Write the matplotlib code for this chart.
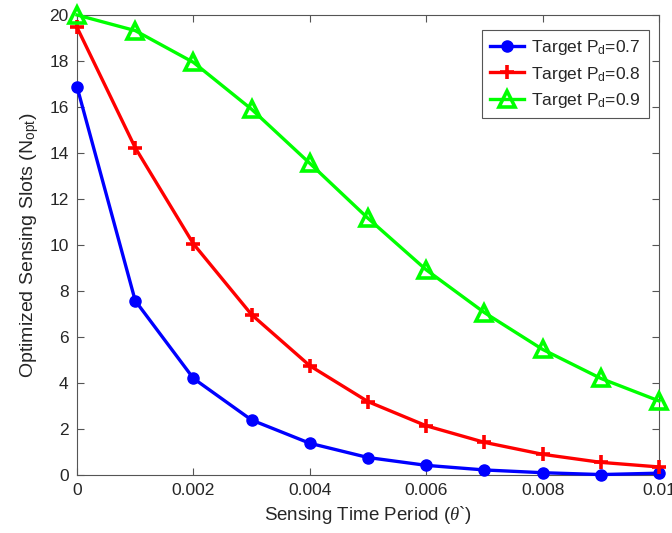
import matplotlib
matplotlib.use("Agg")
import matplotlib.pyplot as plt

plt.rcParams['font.family'] = ['Liberation Sans', 'DejaVu Sans']
plt.rcParams['mathtext.fontset'] = 'custom'
plt.rcParams['mathtext.rm'] = 'Liberation Sans'
plt.rcParams['mathtext.it'] = 'Liberation Serif:italic'

x = [0, 0.001, 0.002, 0.003, 0.004, 0.005, 0.006, 0.007, 0.008, 0.009, 0.01]
pd07 = [16.88, 7.58, 4.2, 2.39, 1.38, 0.76, 0.42, 0.22, 0.1, 0.02, 0.08]
pd08 = [19.46, 14.23, 10.05, 6.97, 4.75, 3.19, 2.14, 1.42, 0.9, 0.55, 0.35]
pd09 = [20.0, 19.32, 17.94, 15.9, 13.55, 11.16, 8.92, 7.06, 5.46, 4.2, 3.22]
labels = ["Target P$_\\mathrm{d}$=0.7", "Target P$_\\mathrm{d}$=0.8", "Target P$_\\mathrm{d}$=0.9"]
xticks = [0, 0.002, 0.004, 0.006, 0.008, 0.01]
xticklabels = ["0", "0.002", "0.004", "0.006", "0.008", "0.01"]
yticks = [0, 2, 4, 6, 8, 10, 12, 14, 16, 18, 20]

fig = plt.figure(figsize=(6.72, 5.33), dpi=100)
ax = fig.add_axes([0.1146, 0.1088, 0.8661, 0.8631])

ax.plot(x, pd07, color=(0, 0, 1), lw=2.4, marker='o', ms=8, mfc=(0, 0, 1), mec=(0, 0, 1),
        label=labels[0], clip_on=False, zorder=3)
ax.plot(x, pd08, color=(1, 0, 0), lw=2.4, marker='+', ms=10, mew=2.6,
        label=labels[1], clip_on=False, zorder=3)
ax.plot(x, pd09, color=(0, 1, 0), lw=2.4, marker='^', ms=11, mew=2.6, mfc='none', mec=(0, 1, 0),
        label=labels[2], clip_on=False, zorder=3)

ax.set_xlim(0, 0.01)
ax.set_ylim(0, 20)
ax.set_xticks(xticks)
ax.set_xticklabels(xticklabels)
ax.set_yticks(yticks)

tc = '#262626'
for s in ax.spines.values():
    s.set_color('#555555')
    s.set_linewidth(0.8)
ax.tick_params(direction='in', top=True, right=True, length=5, width=0.8,
               colors='#555555', labelcolor=tc, labelsize=12.5, pad=6)

ax.set_xlabel("Sensing Time Period ($\\theta$`)", fontsize=13.5, color=tc, labelpad=4)
ax.set_ylabel("Optimized Sensing Slots (N$_\\mathrm{opt}$)", fontsize=14, color=tc, labelpad=6)

leg = ax.legend(loc='upper right', bbox_to_anchor=(0.988, 0.975), fontsize=12.5, fancybox=False,
                framealpha=1, edgecolor='#555555', handlelength=2.0, borderpad=0.45,
                labelspacing=0.45, handletextpad=0.4, borderaxespad=0.2)
leg.get_frame().set_linewidth(0.8)
for t in leg.get_texts():
    t.set_color(tc)

fig.savefig("out.png", dpi=100)
